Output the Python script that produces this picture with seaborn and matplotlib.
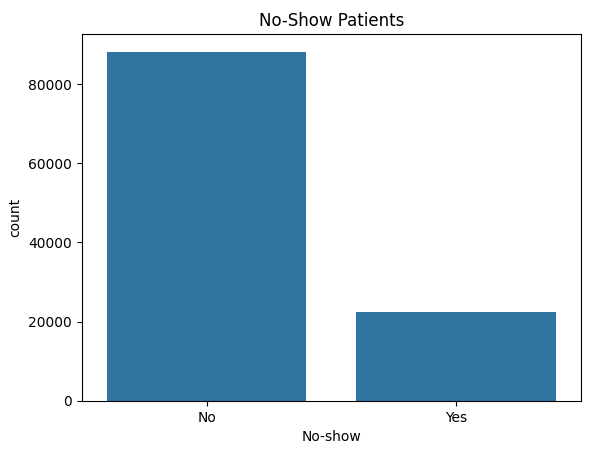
import matplotlib
matplotlib.use('Agg')
import matplotlib.pyplot as plt
import seaborn as sns
import pandas as pd

no_show = ['No', 'Yes']
counts = [88208, 22319]

df = pd.DataFrame({'No-show': no_show, 'count': counts})

fig, ax = plt.subplots(figsize=(5.89, 4.55), dpi=100)
sns.barplot(data=df, x='No-show', y='count', ax=ax)
ax.set_title('No-Show Patients')
plt.subplots_adjust(left=0.139, right=0.986, top=0.925, bottom=0.119)
plt.savefig('out.png', dpi=100)
